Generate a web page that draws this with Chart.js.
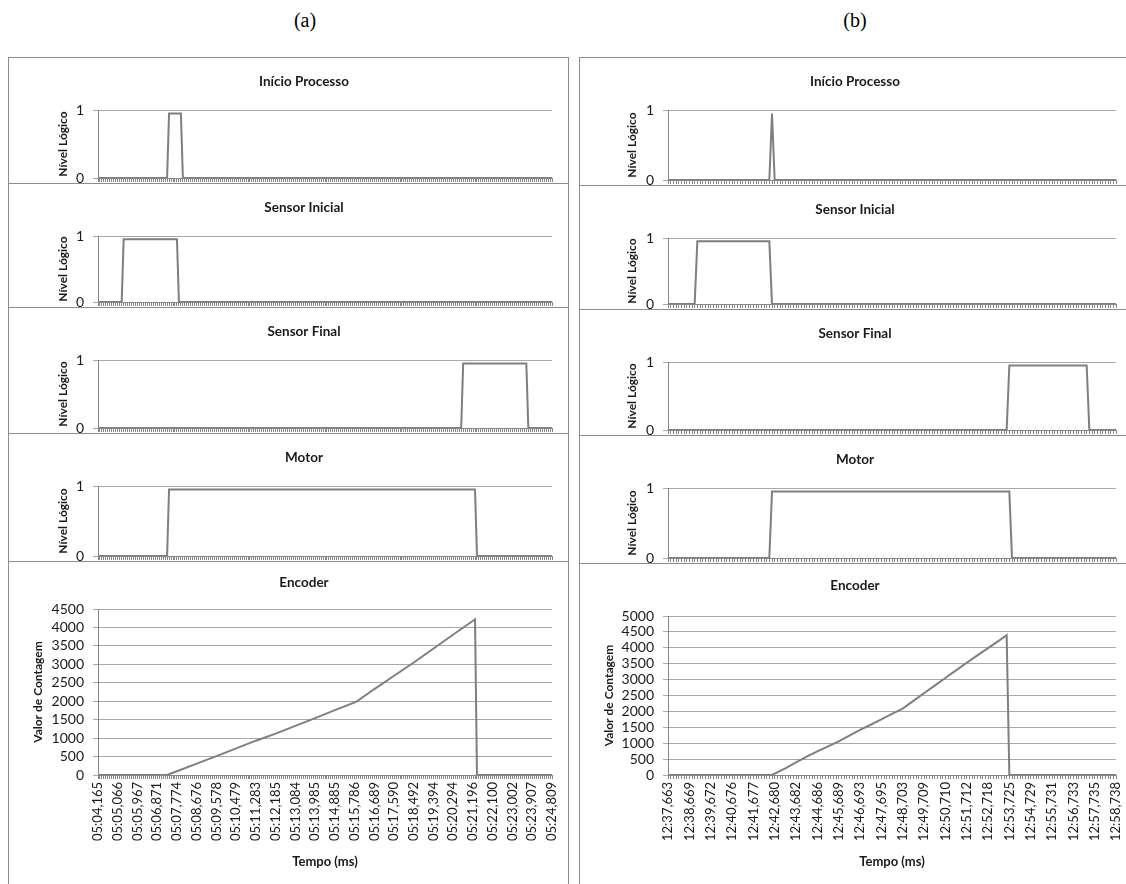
<!DOCTYPE html>
<html>
<head>
<meta charset="utf-8">
<script src="https://cdn.jsdelivr.net/npm/chart.js@4.4.1/dist/chart.umd.min.js"></script>
<style>
  body { margin: 0; background: #fff; width: 1126px; height: 884px; overflow: hidden; position: relative; }
  .cap { position: absolute; top: 9px; width: 60px; text-align: center; font: 20px "Liberation Serif", serif; color: #000; }
  .row { position: absolute; box-sizing: border-box; border: 1px solid #8c8c8c; border-bottom: none; }
  .row canvas { position: absolute; left: 0; top: 0; }
</style>
</head>
<body>
<div class="cap" style="left:275px">(a)</div>
<div class="cap" style="left:825px">(b)</div>
<div id="panelA"></div>
<div id="panelB"></div>

<script>
// tick labels of the time axis (one every N samples)
const labelsA = ["05:04,165", "05:05,066", "05:05,967", "05:06,871", "05:07,774", "05:08,676",
  "05:09,578", "05:10,479", "05:11,283", "05:12,185", "05:13,084", "05:13,985", "05:14,885",
  "05:15,786", "05:16,689", "05:17,590", "05:18,492", "05:19,394", "05:20,294", "05:21,196",
  "05:22,100", "05:23,002", "05:23,907", "05:24,809"];
const labelsB = ["12:37,663", "12:38,669", "12:39,672", "12:40,676", "12:41,677", "12:42,680",
  "12:43,682", "12:44,686", "12:45,689", "12:46,693", "12:47,695", "12:48,703", "12:49,709",
  "12:50,710", "12:51,712", "12:52,718", "12:53,725", "12:54,729", "12:55,731", "12:56,733",
  "12:57,735", "12:58,738"];
const samplesPerLabelA = 10;
const samplesPerLabelB = 8;

// (a) signals: sample index -> value
const inicioA_x = [0, 35, 36, 42, 43, 230];
const inicioA_y = [0, 0, 0.95, 0.95, 0, 0];
const sensorIniA_x = [0, 12, 13, 40, 41, 230];
const sensorIniA_y = [0, 0, 0.95, 0.95, 0, 0];
const sensorFimA_x = [0, 184, 185, 217, 218, 230];
const sensorFimA_y = [0, 0, 0.95, 0.95, 0, 0];
const motorA_x = [0, 35, 36, 191, 192, 230];
const motorA_y = [0, 0, 0.95, 0.95, 0, 0];
const encoderA_x = [0, 35, 40, 50, 60, 70, 80, 90, 100, 110, 120, 131, 140, 150, 160, 170, 180, 190, 191, 192, 230];
const encoderA_y = [0, 0, 100, 310, 510, 720, 930, 1120, 1330, 1540, 1760, 1990, 2330, 2690, 3050, 3430, 3810, 4180, 4220, 0, 0];

// (b) signals
const inicioB_x = [0, 38, 39, 40, 168];
const inicioB_y = [0, 0, 0.95, 0, 0];
const sensorIniB_x = [0, 10, 11, 38, 39, 168];
const sensorIniB_y = [0, 0, 0.95, 0.95, 0, 0];
const sensorFimB_x = [0, 127, 128, 157, 158, 168];
const sensorFimB_y = [0, 0, 0.95, 0.95, 0, 0];
const motorB_x = [0, 38, 39, 128, 129, 168];
const motorB_y = [0, 0, 0.95, 0.95, 0, 0];
const encoderB_x = [0, 39, 44, 48, 52, 56, 60, 64, 68, 72, 76, 80, 84, 88, 92, 96, 100, 104, 108, 112, 116, 120, 124, 127, 128, 168];
const encoderB_y = [0, 0, 210, 400, 580, 740, 900, 1060, 1240, 1420, 1580, 1750, 1920, 2090, 2330, 2570, 2810, 3050, 3290, 3530, 3760, 3990, 4220, 4400, 0, 0];

const FONT = "Lato, 'Open Sans', sans-serif";
const LINE = "#7f7f7f";
const AXIS = "#868686";
const GRID = "#a8a8a8";
const TXT = "#1a1a1a";

// chart title drawn at a fixed centre (Excel centres it a bit off the canvas middle)
const rowTitle = {
  id: "rowTitle",
  afterDraw(chart, args, o) {
    const ctx = chart.ctx;
    ctx.save();
    ctx.font = "bold 13.5px " + FONT;
    ctx.fillStyle = TXT;
    ctx.textAlign = "center";
    ctx.textBaseline = "middle";
    ctx.fillText(o.text, o.x, o.y);
    ctx.restore();
  }
};

function makeChart(canvas, c) {
  const nMax = (c.labels.length - 1) * c.per;
  const pts = c.xs.map((x, i) => ({ x: x, y: c.ys[i] }));
  return new Chart(canvas, {
    type: "line",
    data: { datasets: [{ data: pts, borderColor: LINE, borderWidth: 2, pointRadius: 0, tension: 0, fill: false }] },
    plugins: [rowTitle],
    options: {
      responsive: false,
      animation: false,
      devicePixelRatio: 1,
      layout: { padding: { left: 0, right: c.padRight, top: c.plotTop, bottom: 0 } },
      plugins: {
        legend: { display: false },
        tooltip: { enabled: false },
        rowTitle: { text: c.title, x: c.titleX, y: c.titleY }
      },
      scales: {
        x: {
          type: "linear", min: 0, max: nMax,
          afterBuildTicks: s => {
            const t = [];
            for (let i = 0; i <= nMax; i++) t.push({ value: i });
            s.ticks = t;
          },
          ticks: {
            display: c.encoder, autoSkip: false, minRotation: 90, maxRotation: 90, padding: 3,
            color: TXT, font: { family: FONT, size: 13 },
            callback: v => (v % c.per === 0 ? c.labels[v / c.per] : "")
          },
          grid: { drawOnChartArea: false, drawTicks: true, tickLength: 4, color: AXIS },
          border: { display: true, color: AXIS },
          title: {
            display: c.encoder, text: "Tempo (ms)", color: TXT,
            font: { family: FONT, size: 13, weight: "bold" }, padding: { top: 0, bottom: 14 }
          },
          afterFit: s => { s.height = c.xHeight; s.paddingLeft = 0; s.paddingRight = 0; }
        },
        y: {
          min: 0, max: c.yMax,
          ticks: {
            stepSize: c.yStep, autoSkip: false, padding: 9, color: TXT,
            font: { family: FONT, size: 14 }, callback: v => String(v)
          },
          grid: { color: GRID, tickLength: 5 },
          border: { display: true, color: AXIS },
          title: {
            display: true, text: c.yTitle, color: TXT,
            font: { family: FONT, size: 12, weight: "bold" }, padding: { top: c.yTitlePad, bottom: 0 }
          },
          afterFit: s => { s.width = c.yWidth; s.paddingTop = 0; s.paddingBottom = 0; }
        }
      }
    }
  });
}

function buildPanel(el, p) {
  p.rows.forEach((r, i) => {
    const top = p.tops[i];
    const last = i === p.rows.length - 1;
    const bottom = last ? 900 : p.tops[i + 1];
    const div = document.createElement("div");
    div.className = "row";
    div.style.left = p.left + "px";
    div.style.top = top + "px";
    div.style.width = p.width + "px";
    div.style.height = (bottom - top) + "px";
    const cv = document.createElement("canvas");
    const h = (last ? 884 : bottom) - top - 1;
    cv.width = p.width - 2;
    cv.height = h;
    cv.style.width = cv.width + "px";
    cv.style.height = h + "px";
    div.appendChild(cv);
    el.appendChild(div);
    makeChart(cv, {
      title: r.title, xs: r.xs, ys: r.ys,
      labels: p.labels, per: p.per,
      encoder: last,
      yMax: last ? p.encMax : 1, yStep: last ? 500 : 1,
      yTitle: last ? "Valor de Contagem" : "Nível Lógico",
      yTitlePad: last ? p.encTitlePad : p.logicTitlePad,
      yWidth: p.yWidth, padRight: p.padRight,
      titleX: p.titleX - p.left - 1,
      titleY: last ? p.encTitleY - top - 1 : 24,
      plotTop: last ? p.encPlotTop - top - 1 : 52,
      xHeight: last ? h - (775 - top - 1) : 5
    });
  });
}

buildPanel(document.getElementById("panelA"), {
  left: 8, width: 561, tops: [57, 183, 307, 433, 561],
  labels: labelsA, per: samplesPerLabelA, encMax: 4500,
  yWidth: 89, padRight: 16, logicTitlePad: 47, encTitlePad: 22,
  titleX: 304, encTitleY: 583, encPlotTop: 609,
  rows: [
    { title: "Início Processo", xs: inicioA_x, ys: inicioA_y },
    { title: "Sensor Inicial", xs: sensorIniA_x, ys: sensorIniA_y },
    { title: "Sensor Final", xs: sensorFimA_x, ys: sensorFimA_y },
    { title: "Motor", xs: motorA_x, ys: motorA_y },
    { title: "Encoder", xs: encoderA_x, ys: encoderA_y }
  ]
});

buildPanel(document.getElementById("panelB"), {
  left: 579, width: 552, tops: [57, 185, 309, 435, 563],
  labels: labelsB, per: samplesPerLabelB, encMax: 5000,
  yWidth: 88, padRight: 14, logicTitlePad: 45, encTitlePad: 22,
  titleX: 855, encTitleY: 586, encPlotTop: 616,
  rows: [
    { title: "Início Processo", xs: inicioB_x, ys: inicioB_y },
    { title: "Sensor Inicial", xs: sensorIniB_x, ys: sensorIniB_y },
    { title: "Sensor Final", xs: sensorFimB_x, ys: sensorFimB_y },
    { title: "Motor", xs: motorB_x, ys: motorB_y },
    { title: "Encoder", xs: encoderB_x, ys: encoderB_y }
  ]
});
</script>
</body>
</html>
